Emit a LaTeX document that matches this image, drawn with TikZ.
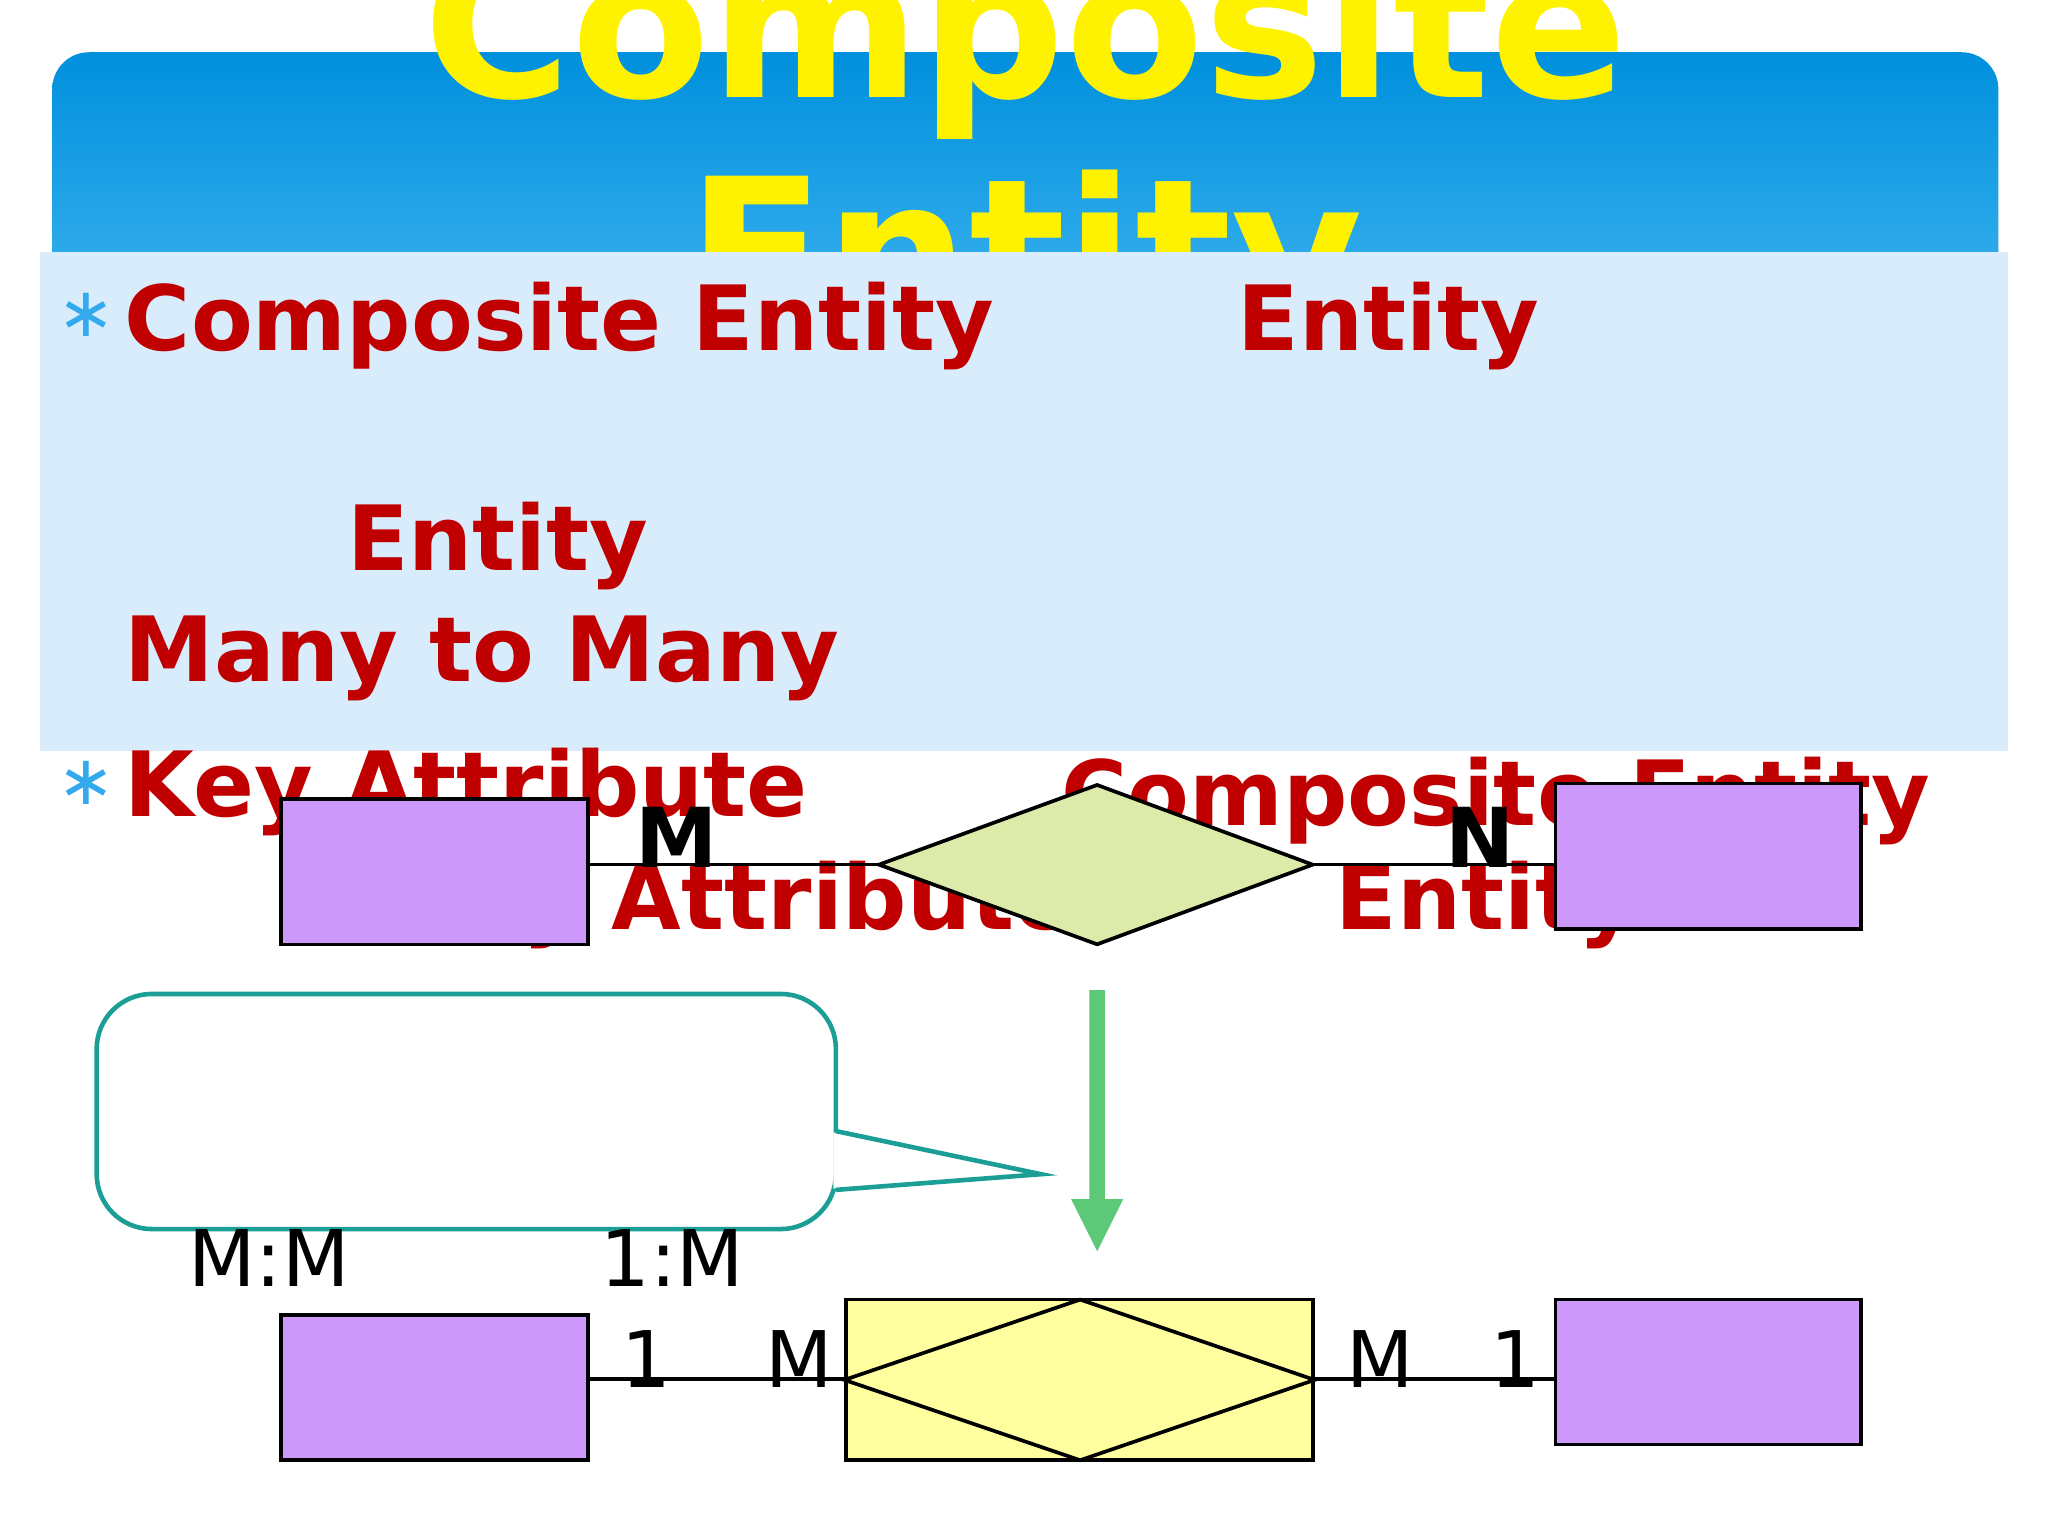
\documentclass[tikz,border=0pt]{standalone}
\usepackage{fontspec}
\setmainfont{DejaVu Sans}
\begin{document}
\begin{tikzpicture}[x=0.01cm,y=-0.01cm,
  red/.style={anchor=base west,inner sep=0pt,font=\bfseries\fontsize{19.6}{20}\selectfont,text=txtred},
  lbl/.style={anchor=base,inner sep=0pt,font=\fontsize{17}{17}\selectfont},
  ent/.style={draw=black,fill=entfill,line width=0.8pt},
  bul/.style={anchor=base,inner sep=0pt,font=\fontsize{15}{15}\selectfont,text=bulblue}]
\definecolor{txtred}{HTML}{C00000}
\definecolor{bulblue}{HTML}{33AAEE}
\definecolor{entfill}{HTML}{CC99FA}
\definecolor{panel}{HTML}{D9ECFB}
\definecolor{topblue}{HTML}{0090DD}
\definecolor{botblue}{HTML}{40B4F0}
\definecolor{teal}{HTML}{1A9E96}
\definecolor{dia}{HTML}{DCEBAA}
\definecolor{ybox}{HTML}{FFFFA0}
\definecolor{arrowgreen}{HTML}{5CC878}
\path[use as bounding box] (0,0) rectangle (1568,1176);
\clip (0,0) rectangle (1568,1176);
% title bar
\shade[top color=topblue,bottom color=botblue,rounded corners=8pt] (40,40) rectangle (1530,260);
\node[anchor=base,inner sep=0pt,font=\bfseries\fontsize{44}{44}\selectfont,text=yellow] (t1) at (785,75) {Composite};
\node[anchor=base,inner sep=0pt,font=\bfseries\fontsize{44}{44}\selectfont,text=yellow] (t2) at (785,248) {Entity};
% panel
\fill[panel] (31,193) rectangle (1537,575);
% bullets and text
\node[bul] (b1) at (66,258) {∗};
\node[bul] (b2) at (66,616) {∗};
\node[red] (r1) at (95,268) {Composite Entity};
\node[red] (r2) at (947,268) {Entity};
\node[red] (r3) at (265,437) {Entity};
\node[red] (r4) at (95,522) {Many to Many};
\node[red] (r5) at (95,625) {Key Attribute};
\node[red] (r6) at (812,632) {Composite Entity};
\node[red] (r7) at (300,712) {Key Attribute};
\node[red] (r8) at (1022,712) {Entity};
% top diagram
\draw[line width=0.8pt] (450,662) -- (673,662);
\draw[line width=0.8pt] (1005,662) -- (1191,662);
\node[ent,minimum width=2.35cm,minimum height=1.11cm] (e1) at (332.5,667.5) {};
\node[ent,minimum width=2.34cm,minimum height=1.11cm] (e2) at (1308,655.5) {};
\draw[fill=dia,line width=0.8pt] (673,662) coordinate (dl) -- (840,601) -- (1005,662) coordinate (dr) -- (840,723) -- cycle;
\node[anchor=base,inner sep=0pt,font=\bfseries\fontsize{18}{18}\selectfont] (m1) at (518,664) {M};
\node[anchor=base,inner sep=0pt,font=\bfseries\fontsize{18}{18}\selectfont] (n1) at (1133,664) {N};
% green arrow
\fill[arrowgreen] (834,758) -- (846,758) -- (846,918) -- (860,918) -- (840,958) -- (820,918) -- (834,918) -- cycle;
% callout
\draw[teal,fill=white,line width=1pt,rounded corners=12pt] (74,761) rectangle (640,941);
\fill[white] (638,867) -- (797,899) -- (638,910) -- cycle;
\draw[teal,line width=1pt] (640,866) -- (797,899) -- (640,911);
\node[lbl] (mm) at (206,985) {M:M};
\node[lbl] (om) at (515,985) {1:M};
% bottom diagram
\draw[line width=0.8pt] (450,1056) -- (648,1056);
\draw[line width=0.8pt] (1005,1056) -- (1191,1056);
\node[ent,minimum width=2.35cm,minimum height=1.11cm] (e3) at (332.5,1062.5) {};
\node[ent,minimum width=2.34cm,minimum height=1.11cm] (e4) at (1308,1050.5) {};
\node[draw=black,fill=ybox,line width=0.8pt,minimum width=3.57cm,minimum height=1.23cm,inner sep=0pt] (ce) at (826.5,1056.5) {};
\draw[line width=0.8pt] (ce.west) -- (827,995) -- (ce.east) -- (827,1118) -- cycle;
\node[lbl] (l1) at (495,1062) {1};
\node[lbl] (l2) at (612,1062) {M};
\node[lbl] (l3) at (1057,1062) {M};
\node[lbl] (l4) at (1160,1062) {1};
\end{tikzpicture}
\end{document}
